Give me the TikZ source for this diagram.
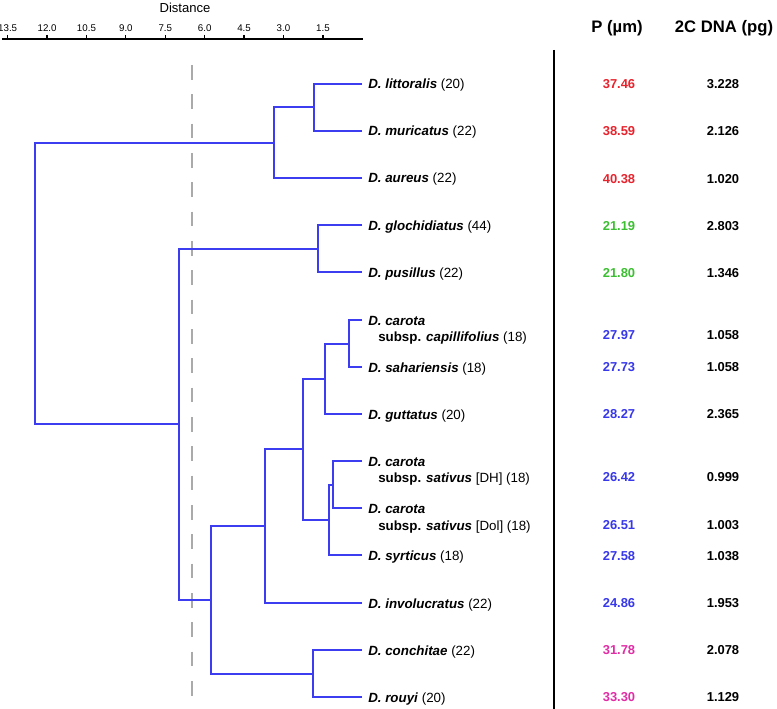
\documentclass[tikz,border=0pt]{standalone}
\usepackage{fontspec}
\setmainfont{Liberation Sans}
\usetikzlibrary{positioning}
\definecolor{treeblue}{RGB}{60,60,240}
\definecolor{pred}{RGB}{232,35,45}
\definecolor{pgreen}{RGB}{60,190,50}
\definecolor{pblue}{RGB}{55,55,235}
\definecolor{pmag}{RGB}{225,45,165}
\definecolor{cutgray}{RGB}{170,170,170}
\tikzset{
  branch/.style={draw=treeblue, line width=1.1pt},
  taxon/.style={anchor=base west, inner sep=0pt, font=\fontsize{10}{12}\selectfont},
  val/.style={inner sep=0pt, font=\fontsize{9.7}{11}\selectfont\bfseries},
  head/.style={inner sep=0pt, font=\fontsize{12.5}{15}\selectfont\bfseries},
  ticklab/.style={inner sep=0pt, font=\fontsize{7.3}{9}\selectfont}
}
\newcommand{\spname}[1]{\textbf{\textit{#1}}}

\begin{document}
\begin{tikzpicture}[x=0.75pt, y=-0.75pt]
        \useasboundingbox (0,0) rectangle (777,709);
        % Distance axis
        \node[font=\fontsize{9.8}{11}\selectfont] (dist) at (185,8) {Distance};
        \draw[line width=1.1pt] (2,39) -- (363,39);
        \foreach \d/\lab in {1.5/1.5, 3/3.0, 4.5/4.5, 6/6.0, 7.5/7.5, 9/9.0, 10.5/10.5, 12/12.0, 13.5/13.5} {
            \draw[line width=0.9pt] ({362.3-26.27*\d},35) -- ({362.3-26.27*\d},39);
            \node[ticklab] at ({362.3-26.27*\d},28) {\lab};
        }
        % Cut-off line
        \draw[cutgray, line width=1.1pt, dash pattern=on 11pt off 11pt] (192,65) -- (192,706);
        % Leaf tips
        \coordinate (tLit) at (362,84);
        \coordinate (tMur) at (362,131);
        \coordinate (tAur) at (362,178);
        \coordinate (tGlo) at (362,225);
        \coordinate (tPus) at (362,272);
        \coordinate (tCap) at (362,320);
        \coordinate (tSah) at (362,367);
        \coordinate (tGut) at (362,414);
        \coordinate (tDH) at (362,461);
        \coordinate (tDol) at (362,508);
        \coordinate (tSyr) at (362,555);
        \coordinate (tInv) at (362,603);
        \coordinate (tCon) at (362,650);
        \coordinate (tRou) at (362,697);
        % Taxon labels
        \node[taxon] (lLit) at (368,89) {\spname{D. littoralis} (20)};
        \node[taxon] (lMur) at (368,136) {\spname{D. muricatus} (22)};
        \node[taxon] (lAur) at (368,183) {\spname{D. aureus} (22)};
        \node[taxon] (lGlo) at (368,230) {\spname{D. glochidiatus} (44)};
        \node[taxon] (lPus) at (368,277) {\spname{D. pusillus} (22)};
        \node[taxon] (lCap) at (368,325) {\spname{D. carota}};
        \node[taxon] (lCapb) at (378,341) {\textbf{subsp.} \spname{capillifolius} (18)};
        \node[taxon] (lSah) at (368,372) {\spname{D. sahariensis} (18)};
        \node[taxon] (lGut) at (368,419) {\spname{D. guttatus} (20)};
        \node[taxon] (lDH) at (368,466) {\spname{D. carota}};
        \node[taxon] (lDHb) at (378,482) {\textbf{subsp.} \spname{sativus} [DH] (18)};
        \node[taxon] (lDol) at (368,513) {\spname{D. carota}};
        \node[taxon] (lDolb) at (378,530) {\textbf{subsp.} \spname{sativus} [Dol] (18)};
        \node[taxon] (lSyr) at (368,560) {\spname{D. syrticus} (18)};
        \node[taxon] (lInv) at (368,608) {\spname{D. involucratus} (22)};
        \node[taxon] (lCon) at (368,655) {\spname{D. conchitae} (22)};
        \node[taxon] (lRou) at (368,702) {\spname{D. rouyi} (20)};
        % Internal nodes
        \coordinate (nLM) at (314,107);
        \coordinate (nLMA) at (274,143);
        \coordinate (nGP) at (318,249);
        \coordinate (nCS) at (349,344);
        \coordinate (nCSG) at (325,379);
        \coordinate (nDD) at (333,485);
        \coordinate (nDDS) at (329,520);
        \coordinate (nCar) at (303,449);
        \coordinate (nInv) at (265,526);
        \coordinate (nCR) at (313,674);
        \coordinate (nLow) at (211,600);
        \coordinate (nMid) at (179,424);
        \coordinate (nRoot) at (35,283);
        % Branches
        \draw[branch] (tLit) -| (nLM) |- (tMur);
        \draw[branch] (nLM) -| (nLMA) |- (tAur);
        \draw[branch] (tGlo) -| (nGP) |- (tPus);
        \draw[branch] (tCap) -| (nCS) |- (tSah);
        \draw[branch] (nCS) -| (nCSG) |- (tGut);
        \draw[branch] (tDH) -| (nDD) |- (tDol);
        \draw[branch] (nDD) -| (nDDS) |- (tSyr);
        \draw[branch] (nCSG) -| (nCar) |- (nDDS);
        \draw[branch] (nCar) -| (nInv) |- (tInv);
        \draw[branch] (tCon) -| (nCR) |- (tRou);
        \draw[branch] (nInv) -| (nLow) |- (nCR);
        \draw[branch] (nGP) -| (nMid) |- (nLow);
        \draw[branch] (nLMA) -| (nRoot) |- (nMid);
        % Separator and table
        \draw[line width=1.1pt] (554,50) -- (554,709);
        \node[head] (hP) at (617,28) {P (µm)};
        \node[head] (hC) at (724,28) {2C DNA (pg)};
        \node[val, text=pred] (pLit) at (619,84) {37.46};
        \node[val, text=pred] (pMur) at (619,131) {38.59};
        \node[val, text=pred] (pAur) at (619,179) {40.38};
        \node[val, text=pgreen] (pGlo) at (619,226) {21.19};
        \node[val, text=pgreen] (pPus) at (619,273) {21.80};
        \node[val, text=pblue] (pCap) at (619,335) {27.97};
        \node[val, text=pblue] (pSah) at (619,367) {27.73};
        \node[val, text=pblue] (pGut) at (619,414) {28.27};
        \node[val, text=pblue] (pDH) at (619,477) {26.42};
        \node[val, text=pblue] (pDol) at (619,525) {26.51};
        \node[val, text=pblue] (pSyr) at (619,556) {27.58};
        \node[val, text=pblue] (pInv) at (619,603) {24.86};
        \node[val, text=pmag] (pCon) at (619,650) {31.78};
        \node[val, text=pmag] (pRou) at (619,697) {33.30};
        \node[val] (cLit) at (723,84) {3.228};
        \node[val] (cMur) at (723,131) {2.126};
        \node[val] (cAur) at (723,179) {1.020};
        \node[val] (cGlo) at (723,226) {2.803};
        \node[val] (cPus) at (723,273) {1.346};
        \node[val] (cCap) at (723,335) {1.058};
        \node[val] (cSah) at (723,367) {1.058};
        \node[val] (cGut) at (723,414) {2.365};
        \node[val] (cDH) at (723,477) {0.999};
        \node[val] (cDol) at (723,525) {1.003};
        \node[val] (cSyr) at (723,556) {1.038};
        \node[val] (cInv) at (723,603) {1.953};
        \node[val] (cCon) at (723,650) {2.078};
        \node[val] (cRou) at (723,697) {1.129};
    \end{tikzpicture}
\end{document}
